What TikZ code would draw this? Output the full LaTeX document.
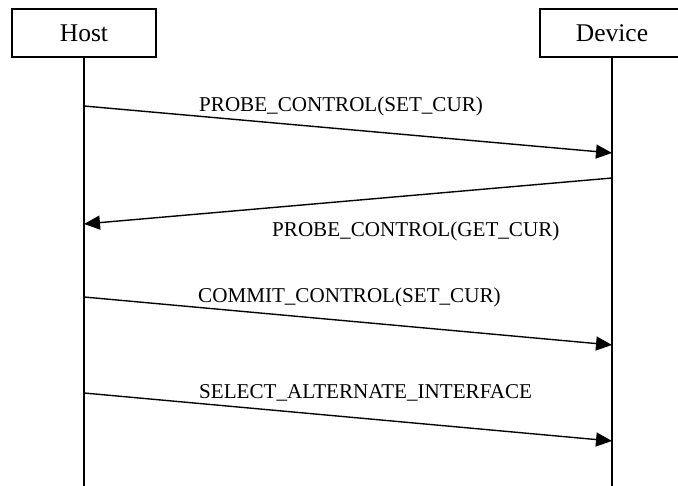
\documentclass[tikz,border=0pt]{standalone}
\usepackage{fontspec}
\setmainfont{Liberation Serif}
\usetikzlibrary{arrows.meta}
\begin{document}
\begin{tikzpicture}[x=1pt,y=-1pt,
  actor/.style={draw,line width=1.4pt,minimum width=144pt,minimum height=48pt,inner sep=0pt,font=\fontsize{25.5}{28}\selectfont},
  life/.style={line width=1.4pt},
  msg/.style={line width=1.4pt,-{Triangle[length=16pt,width=14pt]}},
  msglabel/.style={anchor=base west,inner sep=0pt,font=\fontsize{21.1}{24}\selectfont}]
\useasboundingbox (0,0) rectangle (678,486);
\clip (0,0) rectangle (678,486);
\node[actor] (host) at (84,33) {Host};
\node[actor] (device) at (612,33) {Device};
\coordinate (hostend) at (84,490);
\coordinate (devend) at (612,490);
\draw[life] (host.south) -- (hostend);
\draw[life] (device.south) -- (devend);
\coordinate (h1) at (84,106);
\coordinate (d1) at (612,153);
\coordinate (d2) at (612,178);
\coordinate (h2) at (84,224);
\coordinate (h3) at (84,297);
\coordinate (d3) at (612,345);
\coordinate (h4) at (84,393);
\coordinate (d4) at (612,441);
\draw[msg] (h1) -- (d1);
\draw[msg] (d2) -- (h2);
\draw[msg] (h3) -- (d3);
\draw[msg] (h4) -- (d4);
\node[msglabel] (l1) at (199,112) {PROBE\_CONTROL(SET\_CUR)};
\node[msglabel] (l2) at (272,237) {PROBE\_CONTROL(GET\_CUR)};
\node[msglabel] (l3) at (198,303) {COMMIT\_CONTROL(SET\_CUR)};
\node[msglabel] (l4) at (199,399) {SELECT\_ALTERNATE\_INTERFACE};
\end{tikzpicture}
\end{document}
